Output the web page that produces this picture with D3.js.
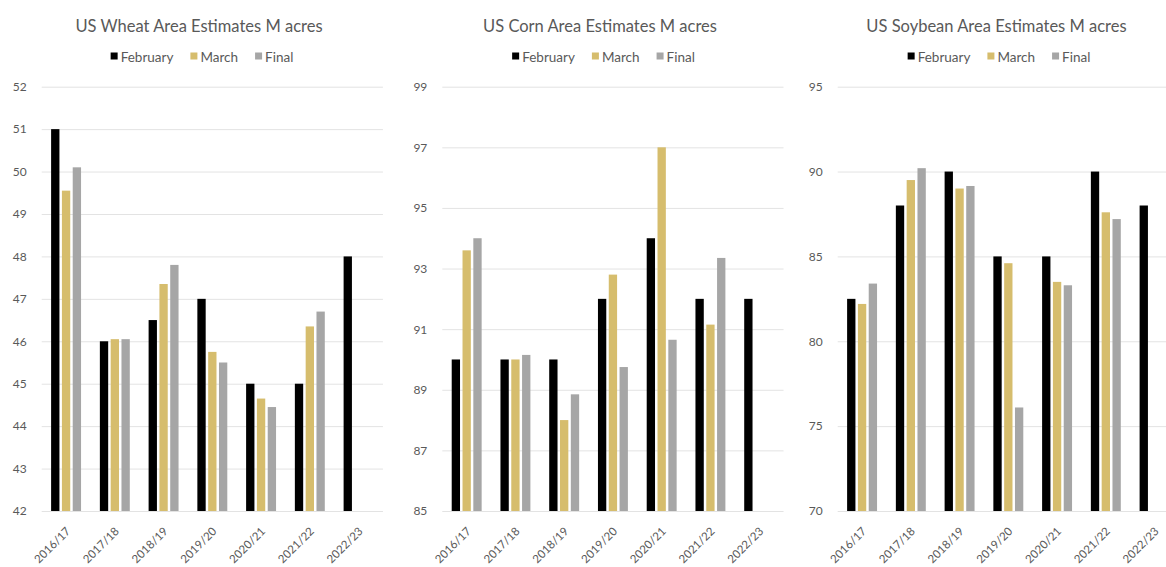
<!DOCTYPE html>
<html><head><meta charset="utf-8">
<script src="https://cdn.jsdelivr.net/npm/d3@7"></script>
<style>
html,body{margin:0;padding:0;background:#fff;}
svg{display:block;font-family:Lato,"Open Sans",sans-serif;}
</style></head>
<body>
<svg id="chart" width="1166" height="567"></svg>
<script>
const categories = ["2016/17","2017/18","2018/19","2019/20","2020/21","2021/22","2022/23"];
const series = ["February","March","Final"];
const colors = ["#000000","#D6BD6D","#A6A6A6"];

const wheatFeb   = [51, 46, 46.5, 47, 45, 45, 48];
const wheatMar   = [49.55, 46.05, 47.35, 45.75, 44.65, 46.35, null];
const wheatFinal = [50.1, 46.05, 47.8, 45.5, 44.45, 46.7, null];
const wheatTicks = [42,43,44,45,46,47,48,49,50,51,52];

const cornFeb   = [90, 90, 90, 92, 94, 92, 92];
const cornMar   = [93.6, 90, 88, 92.8, 97, 91.15, null];
const cornFinal = [94, 90.15, 88.85, 89.75, 90.65, 93.35, null];
const cornTicks = [85,87,89,91,93,95,97,99];

const soyFeb   = [82.5, 88, 90, 85, 85, 90, 88];
const soyMar   = [82.2, 89.5, 89, 84.6, 83.5, 87.6, null];
const soyFinal = [83.4, 90.2, 89.15, 76.1, 83.3, 87.2, null];
const soyTicks = [70,75,80,85,90,95];

const titles = ["US Wheat Area Estimates M acres","US Corn Area Estimates M acres","US Soybean Area Estimates M acres"];

const panels = [
  {title: titles[0], data:[wheatFeb,wheatMar,wheatFinal], ticks:wheatTicks, left:41.7, tcx:199, lcx:202},
  {title: titles[1], data:[cornFeb,cornMar,cornFinal], ticks:cornTicks, left:442.3, tcx:600, lcx:603.5},
  {title: titles[2], data:[soyFeb,soyMar,soyFinal], ticks:soyTicks, left:837.7, tcx:996.5, lcx:999}
];

const svg = d3.select("#chart");
const plotTop = 86.7, plotBottom = 511, step = 48.75;
const textColor = "#595959";

panels.forEach(p => {
  const g = svg.append("g");
  const right = p.left + step*categories.length;
  const x0 = d3.scaleBand().domain(categories).range([p.left, right]).paddingInner(0.335).paddingOuter(0.1675);
  const x1 = d3.scaleBand().domain(series).range([0, x0.bandwidth()]).paddingInner(0.23).paddingOuter(0.115);
  const y = d3.scaleLinear().domain([d3.min(p.ticks), d3.max(p.ticks)]).range([plotBottom, plotTop]);

  const yAxis = d3.axisLeft(y).tickValues(p.ticks).tickSize(-(right - p.left)).tickPadding(15).tickFormat(d3.format("d"));
  const ya = g.append("g").attr("transform", `translate(${p.left},0)`).call(yAxis);
  ya.select(".domain").remove();
  ya.selectAll(".tick line").attr("stroke", "#E3E3E3").attr("stroke-width", 1);
  ya.selectAll(".tick text").attr("fill", textColor).style("font-size", "12px").style("font-family", "Lato");

  series.forEach((s, si) => {
    g.append("g").selectAll("rect")
      .data(categories.map((c, i) => ({c, v: p.data[si][i]})).filter(d => d.v != null))
      .join("rect")
      .attr("x", d => x0(d.c) + x1(s))
      .attr("width", x1.bandwidth())
      .attr("y", d => y(d.v))
      .attr("height", d => y.range()[0] - y(d.v))
      .attr("fill", colors[si]);
  });

  const xAxis = d3.axisBottom(x0).tickSize(0).tickPadding(0);
  const xa = g.append("g").attr("transform", `translate(0,${plotBottom})`).call(xAxis);
  xa.select(".domain").remove();
  xa.selectAll(".tick text")
    .attr("fill", textColor)
    .style("font-size", "11.5px").style("font-family", "Lato")
    .attr("text-anchor", "end")
    .attr("dy", null)
    .attr("y", 0)
    .attr("transform", "translate(5,21) rotate(-45)");

  g.append("text").attr("x", p.tcx).attr("y", 32).attr("text-anchor", "middle")
    .attr("fill", textColor).style("font-size", "16.5px").text(p.title);

  const lg = g.append("g");
  const items = [];
  series.forEach((s, si) => {
    const it = lg.append("g");
    it.append("rect").attr("x", 0).attr("y", -5.5).attr("width", 7).attr("height", 7).attr("fill", colors[si]);
    const t = it.append("text").attr("x", 10).attr("y", 0).attr("dy", "0.32em").attr("fill", textColor)
      .style("font-size", "13.5px").text(s);
    const w = 10 + t.node().getComputedTextLength();
    items.push({it, w});
  });
  const total = d3.sum(items, d => d.w) + 17*(items.length-1);
  let pos = p.lcx - total/2;
  items.forEach(d => { d.it.attr("transform", `translate(${pos},58)`); pos += d.w + 17; });
});
</script>
</body></html>
